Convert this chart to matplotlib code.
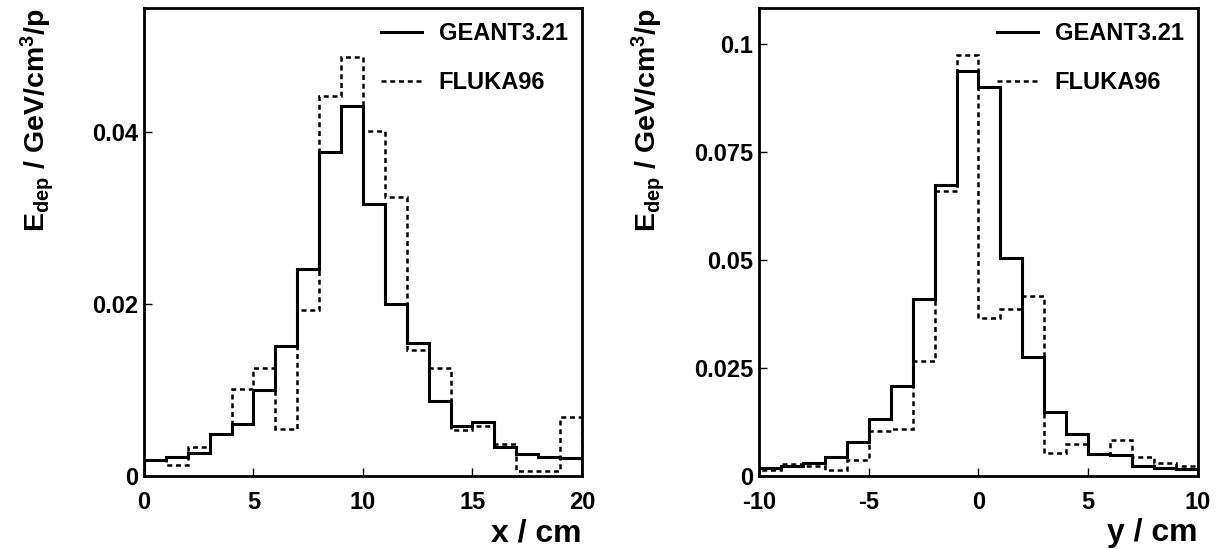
import numpy as np
import matplotlib
matplotlib.use("Agg")
import matplotlib.pyplot as plt
from matplotlib.ticker import FixedLocator, FuncFormatter

plt.rcParams['font.family'] = ['Liberation Sans', 'DejaVu Sans']
plt.rcParams['font.weight'] = 'bold'
plt.rcParams['mathtext.fontset'] = 'custom'
plt.rcParams['mathtext.bf'] = 'Liberation Sans:bold'
plt.rcParams['mathtext.rm'] = 'Liberation Sans:bold'
plt.rcParams['mathtext.default'] = 'bf'

# x profile, bins of 1 cm from 0 to 20
x_edges = np.arange(0, 21, 1)
x_geant = [0.0018, 0.0022, 0.0027, 0.0049, 0.0060, 0.0100, 0.0151, 0.0241, 0.0377, 0.0430,
           0.0316, 0.0200, 0.0155, 0.0087, 0.0058, 0.0063, 0.0034, 0.0026, 0.0022, 0.0021]
x_fluka = [0.0019, 0.0013, 0.0034, 0.0049, 0.0101, 0.0126, 0.0055, 0.0193, 0.0442, 0.0487,
           0.0401, 0.0324, 0.0146, 0.0126, 0.0053, 0.0058, 0.0037, 0.0006, 0.0006, 0.0069]

# y profile, bins of 1 cm from -10 to 10
y_edges = np.arange(-10, 11, 1)
y_geant = [0.0018, 0.0024, 0.0031, 0.0044, 0.0078, 0.0131, 0.0209, 0.0410, 0.0674, 0.0938,
           0.0900, 0.0504, 0.0276, 0.0149, 0.0097, 0.0050, 0.0049, 0.0024, 0.0019, 0.0016]
y_fluka = [0.0015, 0.0028, 0.0024, 0.0015, 0.0036, 0.0104, 0.0109, 0.0266, 0.0660, 0.0976,
           0.0366, 0.0387, 0.0417, 0.0054, 0.0073, 0.0052, 0.0084, 0.0044, 0.0029, 0.0023]

x_ticks = [0, 5, 10, 15, 20]
y_ticks = [-10, -5, 0, 5, 10]
left_vticks = [0, 0.02, 0.04]
right_vticks = [0, 0.025, 0.05, 0.075, 0.1]

ylabel = r'E$_{dep}$ / GeV/cm$^{3}$/p'

fig = plt.figure(figsize=(12.21, 5.49), dpi=100, facecolor='white')
ax1 = fig.add_axes([0.1179, 0.133, 0.3587, 0.8525])
ax2 = fig.add_axes([0.6216, 0.133, 0.3595, 0.8525])


def draw(ax, edges, geant, fluka, xt, vt, ymax, xlabel, ylab_x):
    ax.stairs(geant, edges, color='black', linewidth=2.2, label='GEANT3.21')
    ax.stairs(fluka, edges, color='black', linewidth=1.8, linestyle=(0, (2, 1.5)), label='FLUKA96')
    ax.set_xlim(edges[0], edges[-1])
    ax.set_ylim(0, ymax)
    ax.xaxis.set_major_locator(FixedLocator(xt))
    ax.yaxis.set_major_locator(FixedLocator(vt))
    ax.yaxis.set_major_formatter(FuncFormatter(lambda v, p: '%g' % v))
    ax.xaxis.set_major_formatter(FuncFormatter(lambda v, p: '%g' % v))
    ax.tick_params(direction='in', length=6, width=1, labelsize=17,
                   top=False, right=False)
    ax.tick_params(axis='x', pad=11)
    ax.tick_params(axis='y', pad=4)
    for s in ax.spines.values():
        s.set_linewidth(2)
    ax.set_xlabel(xlabel, fontsize=23, fontweight='bold', loc='right')
    ax.xaxis.set_label_coords(1.0, -0.09)
    ax.set_ylabel(ylabel, fontsize=20.5, fontweight='bold', loc='top')
    ax.yaxis.set_label_coords(ylab_x, 1.0)
    ax.legend(loc='upper right', frameon=False, fontsize=17, handlelength=1.75,
              labelspacing=1.1, borderaxespad=0.2, handletextpad=0.7)


draw(ax1, x_edges, x_geant, x_fluka, x_ticks, left_vticks, 0.0544, 'x / cm', -0.20)
draw(ax2, y_edges, y_geant, y_fluka, y_ticks, right_vticks, 0.1084, 'y / cm', -0.21)

plt.savefig('out.png', dpi=100)
plt.close()
